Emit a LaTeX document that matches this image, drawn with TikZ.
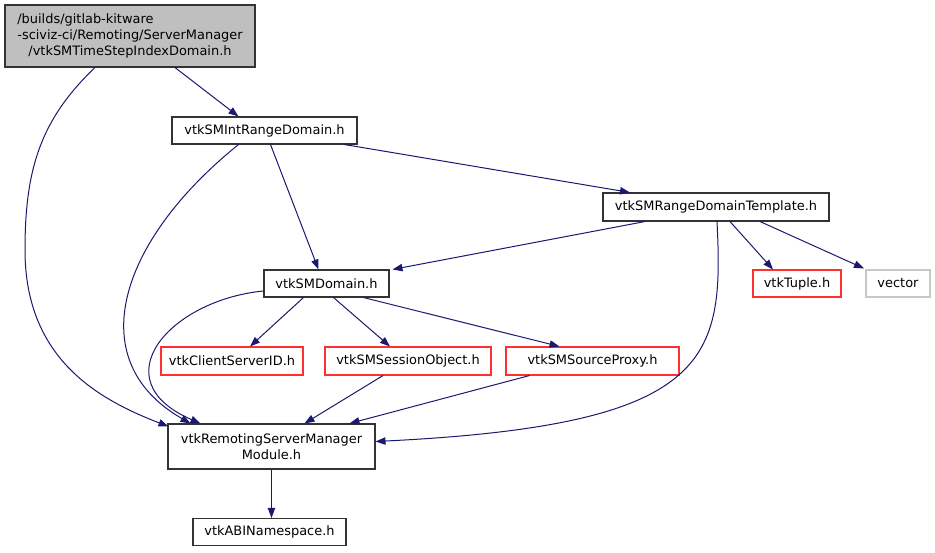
\documentclass[tikz,border=0pt]{standalone}
\usepackage{fontspec}
\setmainfont{DejaVu Sans}
\usepackage{xcolor}
\usetikzlibrary{calc}
\usetikzlibrary{arrows.meta}
\definecolor{edgeblue}{HTML}{191970}
\definecolor{topgray}{HTML}{BFBFBF}
\definecolor{lightgray}{HTML}{C8C8C8}
\definecolor{trunc}{HTML}{FF3030}
\tikzset{
header/.style={
  draw=black!80,
  line width=0.8pt,
  rectangle,
  align=center,
  inner sep=0pt,
  minimum height=20.25pt
},
%truncated headers get a red frame
redheader/.style={header,draw=trunc},
sysheader/.style={header,draw=lightgray},
dep/.style={
  edgeblue,
  line width=0.75pt,
  -{Triangle[length=7.5pt,width=5.5pt]}
},
}

\begin{document}
\begin{tikzpicture}[x=0.75pt,y=-0.75pt,font=\fontsize{9.7}{12}\selectfont]
\useasboundingbox (0,0) rectangle (935,553);
% the headers
\node[header,fill=topgray,minimum width=187.5pt,minimum height=46.5pt] (top) at (130,36)
  {\rlap{/builds/gitlab-kitware}\phantom{-sciviz-ci/Remoting/ServerManager}\\
   -sciviz-ci/Remoting/ServerManager\\/vtkSMTimeStepIndexDomain.h};
\node[header,minimum width=138.75pt] (int) at (264.5,130.5) {vtkSMIntRangeDomain.h};
\node[header,minimum width=169.5pt,minimum height=21pt] (rdt) at (716,207) {vtkSMRangeDomainTemplate.h};
\node[header,minimum width=93.75pt] (dom) at (326.5,283.5) {vtkSMDomain.h};
\node[redheader,minimum width=66pt] (tup) at (797,283.5) {vtkTuple.h};
\node[sysheader,minimum width=48pt] (vec) at (898,283.5) {vector};
\node[redheader,minimum width=106.5pt,minimum height=21pt] (csid) at (232,361) {vtkClientServerID.h};
\node[redheader,minimum width=124.5pt,minimum height=21pt] (sess) at (408,361) {vtkSMSessionObject.h};
\node[redheader,minimum width=129.75pt,minimum height=21pt] (sprx) at (592.5,361) {vtkSMSourceProxy.h};
\node[header,minimum width=155.25pt,minimum height=33.75pt] (mod) at (271.5,446.5)
  {vtkRemotingServerManager\\Module.h};
\node[header,minimum width=114.75pt] (abi) at (269.5,532) {vtkABINamespace.h};

% the straight dependencies
\draw[dep] ($(top.south)+(45,0)$) -- ($(int.north)+(-26,0)$);
\draw[dep] ($(int.south)+(6,0)$) -- ($(dom.north)+(-8,0)$);
\draw[dep] ($(int.south)+(80,0)$) -- ($(rdt.north)+(-86,0)$);
\draw[dep] ($(rdt.south)+(-71,0)$) -- ($(dom.north)+(66,0)$);
\draw[dep] ($(rdt.south)+(14,0)$) -- ($(tup.north)+(-24,0)$);
\draw[dep] ($(rdt.south)+(44,0)$) -- ($(vec.north)+(-34,-1)$);
\draw[dep] ($(dom.south)+(-23,0)$) -- ($(csid.north)+(18,0)$);
\draw[dep] ($(dom.south)+(7,0)$) -- ($(sess.north)+(-18,0)$);
\draw[dep] ($(dom.south)+(37,0)$) -- ($(sprx.north)+(-33,0)$);
\draw[dep] ($(sess.south)+(-25,0)$) -- ($(mod.north)+(33,0)$);
\draw[dep] ($(sprx.south)+(-63,0)$) -- ($(mod.north)+(78,0)$);
\draw[dep] (mod.south) -- (abi.north -| mod.south);

% the curved dependencies
\draw[dep] ($(top.south)+(-35,0)$) .. controls (40,120) and (25,170) .. (25,250)
  .. controls (25,360) and (100,400) .. ($(mod.north west)+(1,3)$);
\draw[dep] ($(int.south)+(-26,0)$) .. controls (120,240) and (80,360) .. ($(mod.north)+(-81,0)$);
\draw[dep] (dom.west |- 0,291) .. controls (170,300) and (100,380) .. ($(mod.north)+(-71,0)$);
\draw[dep] ($(rdt.south)+(1,0)$) .. controls (724,360) and (712,425) .. ($(mod.east)+(0,-5)$);

\end{tikzpicture}
\end{document}
